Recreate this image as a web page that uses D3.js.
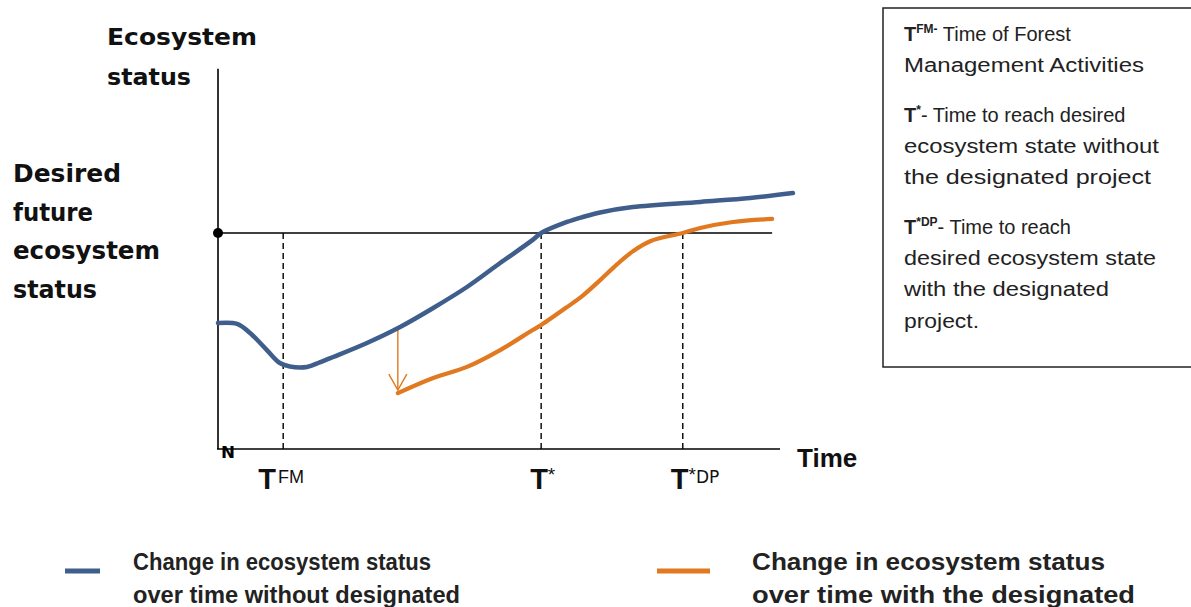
<!DOCTYPE html>
<html><head><meta charset="utf-8">
<script src="https://cdn.jsdelivr.net/npm/d3@7"></script>
<style>
html,body{margin:0;padding:0;background:#fff;}
svg{display:block;}
</style></head>
<body>
<svg id="chart" width="1191" height="607"></svg>
<script>
// ---- data (time in relative units 0..100, status relative to desired level = 1) ----
const blueTime   = [0, 3.4, 5.7, 8.7, 11.0, 12.8, 15.8, 18.1, 20.5, 26.5, 32.4, 38.3, 44.3, 50.2, 56.0, 57.5, 62.1, 64.9, 68.0, 73.8, 85.8, 94.7, 102.3];
const blueStatus = [0.583, 0.579, 0.537, 0.458, 0.398, 0.382, 0.380, 0.401, 0.426, 0.491, 0.565, 0.653, 0.750, 0.861, 0.968, 1.0, 1.051, 1.074, 1.095, 1.120, 1.144, 1.162, 1.185];
const orangeTime   = [32.0, 38.3, 44.3, 50.2, 56.0, 57.5, 62.1, 64.9, 68.0, 71.0, 73.8, 76.9, 82.7, 85.8, 91.6, 98.6];
const orangeStatus = [0.259, 0.329, 0.380, 0.458, 0.551, 0.574, 0.657, 0.710, 0.782, 0.855, 0.915, 0.962, 1.0, 1.023, 1.051, 1.065];
const desiredLevel = 1.0;
const arrowTime = 32.0, arrowFrom = 0.556, arrowTo = 0.273;
const tickTimes = [11.6, 57.5, 82.7];
const tickMain = ["T", "T*", "T*"];
const tickSup  = ["FM", "", "DP"];
const seriesNames = [
  ["Change in ecosystem  status", "over time without designated"],
  ["Change in ecosystem  status", "over time with the designated"]
];
const seriesColors = ["#3f5e8c", "#e0791f"];
const noteLines = [
  {main:"T", sup:"FM-", rest:" Time of Forest"},
  {main:"", sup:"", rest:"Management Activities"},
  {main:"T", sup:"*", rest:"- Time to reach desired"},
  {main:"", sup:"", rest:"ecosystem state without"},
  {main:"", sup:"", rest:"the designated project"},
  {main:"T", sup:"*DP", rest:"- Time to reach"},
  {main:"", sup:"", rest:"desired ecosystem state"},
  {main:"", sup:"", rest:"with the designated"},
  {main:"", sup:"", rest:"project."}
];

const svg = d3.select("#chart");
const x = d3.scaleLinear().domain([0, 100]).range([218, 780]);
const y = d3.scaleLinear().domain([0, 1]).range([449, 233]);
const yTop = 1.76;

// axes
svg.append("line").attr("x1", x(0)).attr("x2", x(0)).attr("y1", y(yTop)).attr("y2", y(0))
  .attr("stroke", "#000").attr("stroke-width", 1.6);
svg.append("line").attr("x1", x(0) - 1).attr("x2", x(100)).attr("y1", y(0)).attr("y2", y(0))
  .attr("stroke", "#000").attr("stroke-width", 1.6);
// desired level line
svg.append("line").attr("x1", x(0)).attr("x2", x(98.6)).attr("y1", y(desiredLevel)).attr("y2", y(desiredLevel))
  .attr("stroke", "#000").attr("stroke-width", 1.5);
svg.append("circle").attr("cx", x(0)).attr("cy", y(desiredLevel)).attr("r", 5).attr("fill", "#000");

// dashed verticals
svg.selectAll("line.drop").data(tickTimes).join("line").attr("class", "drop")
  .attr("x1", d => x(d)).attr("x2", d => x(d))
  .attr("y1", y(desiredLevel)).attr("y2", y(0))
  .attr("stroke", "#000").attr("stroke-width", 1.4).attr("stroke-dasharray", "6,4");

// tick labels
const tickOffset = [-25, -11, -12];
const tl = svg.selectAll("text.tick").data(tickTimes).join("text").attr("class", "tick")
  .attr("x", (d, i) => x(d) + tickOffset[i])
  .attr("y", 489)
  .attr("fill", "#111")
  .attr("font-family", "Liberation Sans, Arial, sans-serif");
tl.each(function(d, i) {
  const t = d3.select(this);
  t.append("tspan").attr("font-size", 29).attr("font-weight", "bold").text("T");
  if (i === 0) {
    t.append("tspan").attr("font-size", 18).attr("dy", -6).attr("dx", 2).text(tickSup[i]);
  } else {
    t.append("tspan").attr("font-size", 19).attr("dy", -8).text("*");
    if (tickSup[i]) t.append("tspan").attr("font-size", 17).attr("dy", 2).attr("font-family","DejaVu Sans, sans-serif").text(tickSup[i]);
  }
});

// origin glyph
svg.append("text").attr("x", x(0) + 3).attr("y", 458).attr("font-size", 16).attr("font-weight", "bold")
  .attr("textLength", 14).attr("lengthAdjust", "spacingAndGlyphs")
  .attr("font-family", "DejaVu Sans, sans-serif").text("N");

// curves
const line = d3.line().x(d => x(d[0])).y(d => y(d[1])).curve(d3.curveCatmullRom.alpha(0.5));
const blueData = blueTime.map((t, i) => [t, blueStatus[i]]);
const orangeData = orangeTime.map((t, i) => [t, orangeStatus[i]]);

// arrow (orange thin)
svg.append("line").attr("x1", x(arrowTime)).attr("x2", x(arrowTime)).attr("y1", y(arrowFrom)).attr("y2", y(arrowTo))
  .attr("stroke", seriesColors[1]).attr("stroke-width", 1.4);
svg.append("path")
  .attr("d", `M${x(arrowTime) - 9},${y(arrowTo) - 16} L${x(arrowTime)},${y(arrowTo)} L${x(arrowTime) + 9},${y(arrowTo) - 16}`)
  .attr("fill", "none").attr("stroke", seriesColors[1]).attr("stroke-width", 1.4);

svg.append("path").datum(blueData).attr("d", line).attr("fill", "none")
  .attr("stroke", seriesColors[0]).attr("stroke-width", 4.5).attr("stroke-linecap", "round");
svg.append("path").datum(orangeData).attr("d", line).attr("fill", "none")
  .attr("stroke", seriesColors[1]).attr("stroke-width", 4.2).attr("stroke-linecap", "round");

// axis titles
const boldFont = "DejaVu Sans, Verdana, sans-serif";
svg.append("text").attr("x", 107).attr("y", 45).attr("font-family", boldFont).attr("font-weight", "bold")
  .attr("font-size", 23).attr("textLength", 150).attr("lengthAdjust", "spacingAndGlyphs").attr("fill", "#111").text("Ecosystem");
svg.append("text").attr("x", 107).attr("y", 85).attr("font-family", boldFont).attr("font-weight", "bold")
  .attr("font-size", 23).attr("textLength", 84).attr("lengthAdjust", "spacingAndGlyphs").attr("fill", "#111").text("status");
const desired = ["Desired", "future", "ecosystem", "status"];
const desiredW = [108, 80, 147, 84];
svg.selectAll("text.des").data(desired).join("text").attr("class", "des")
  .attr("x", 13).attr("y", (d, i) => 182 + i * 38.5)
  .attr("font-family", boldFont).attr("font-weight", "bold").attr("font-size", 24)
  .attr("textLength", (d, i) => desiredW[i]).attr("lengthAdjust", "spacingAndGlyphs")
  .attr("fill", "#111").text(d => d);
svg.append("text").attr("x", 797).attr("y", 467).attr("font-family", "Liberation Sans, Arial, sans-serif")
  .attr("font-weight", "bold").attr("font-size", 26).attr("fill", "#111").text("Time");

// notes box
svg.append("rect").attr("x", 883).attr("y", 8).attr("width", 320).attr("height", 359)
  .attr("fill", "#fff").attr("stroke", "#222").attr("stroke-width", 1.5);
const noteBase = [41, 72, 122, 153, 184, 234, 265, 296, 328];
const noteW = [205, 240, 262, 255, 247, 205, 252, 205, 75];
svg.selectAll("text.note").data(noteLines).join("text").attr("class", "note")
  .attr("x", 904).attr("y", (d, i) => noteBase[i])
  .attr("font-family", "Liberation Sans, Arial, sans-serif").attr("font-size", 20).attr("fill", "#222")
  .each(function(d, i) {
    const t = d3.select(this);
    if (d.main) {
      t.append("tspan").attr("font-weight", "bold").text(d.main);
      t.append("tspan").attr("font-size", 12).attr("font-weight", "bold").attr("dy", -8).text(d.sup);
      t.append("tspan").attr("dy", 8).text(d.rest);
    } else {
      t.append("tspan").attr("textLength", noteW[i]).attr("lengthAdjust", "spacingAndGlyphs").text(d.rest);
    }
  });

// bottom legend
const legX = [65, 657], legLineW = [35, 53], legTextX = [133, 752];
const legBase = [[570, 603], [570, 603]];
const legW = [[298, 327], [353, 383]];
const legSize = [23, 23];
seriesNames.forEach((lines, s) => {
  svg.append("line").attr("x1", legX[s]).attr("x2", legX[s] + legLineW[s]).attr("y1", 571).attr("y2", 571)
    .attr("stroke", seriesColors[s]).attr("stroke-width", 5);
  lines.forEach((txt, k) => {
    svg.append("text").attr("x", legTextX[s]).attr("y", legBase[s][k])
      .attr("font-family", "Liberation Sans, Arial, sans-serif").attr("font-weight", "bold")
      .attr("font-size", legSize[s]).attr("textLength", legW[s][k]).attr("lengthAdjust", "spacingAndGlyphs")
      .attr("fill", "#222").text(txt);
  });
});
</script>
</body></html>
